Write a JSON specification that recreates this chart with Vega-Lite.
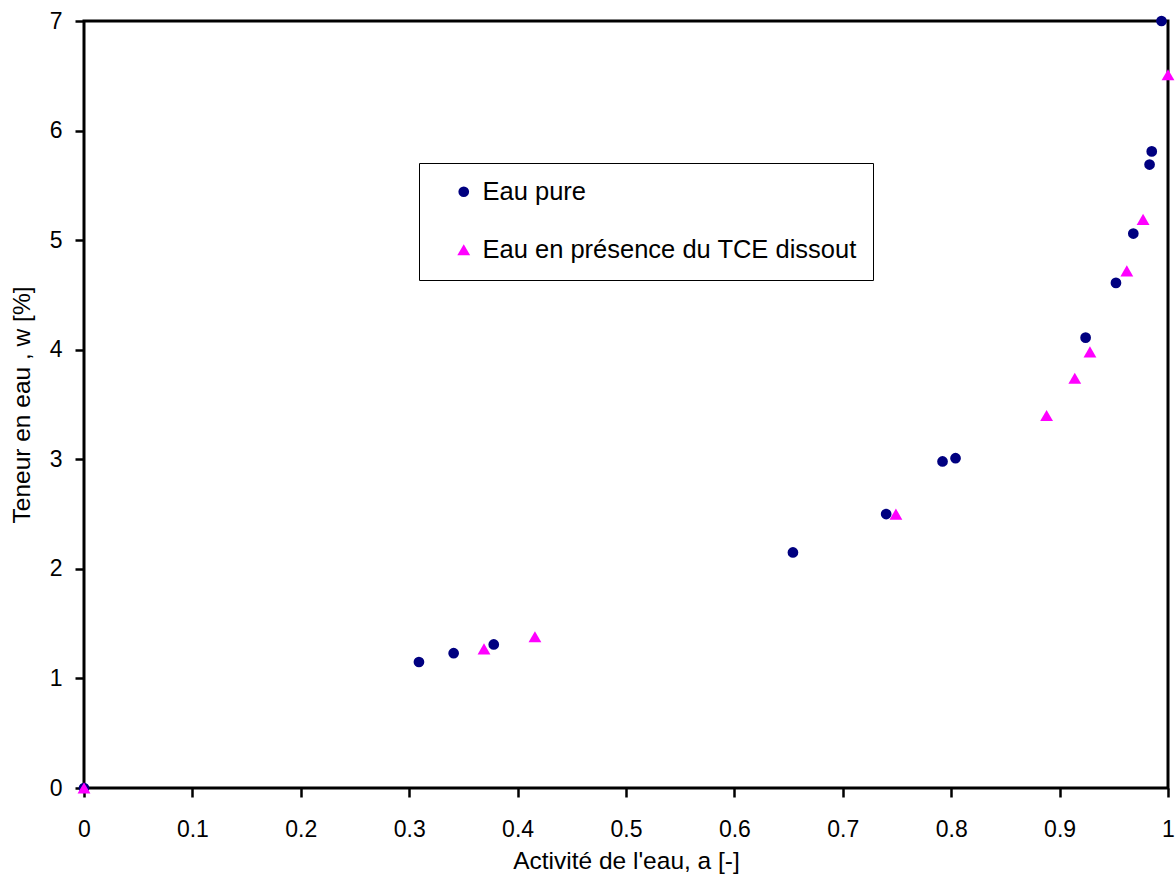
{
  "$schema": "https://vega.github.io/schema/vega-lite/v6.json",
  "autosize": {"type": "none"},
  "width": 1084,
  "height": 767,
  "padding": {"left": 84, "top": 21, "right": 8, "bottom": 95},
  "background": "white",
  "config": {
    "font": "Liberation Sans",
    "view": {"stroke": "black", "strokeWidth": 3},
    "axis": {
      "domain": false,
      "grid": false,
      "ticks": true,
      "tickColor": "black",
      "tickWidth": 2.5,
      "tickSize": 9,
      "labelFlush": false,
      "labelOverlap": false,
      "labelFont": "Liberation Sans",
      "labelFontSize": 23,
      "labelColor": "black",
      "titleFont": "Liberation Sans",
      "titleFontSize": 24.5,
      "titleFontWeight": "normal",
      "titleColor": "black"
    }
  },
  "data": {
    "values": [
      {"a": 0, "w": 0, "serie": "Eau pure"},
      {"a": 0.309, "w": 1.15, "serie": "Eau pure"},
      {"a": 0.341, "w": 1.23, "serie": "Eau pure"},
      {"a": 0.378, "w": 1.31, "serie": "Eau pure"},
      {"a": 0.654, "w": 2.15, "serie": "Eau pure"},
      {"a": 0.740, "w": 2.50, "serie": "Eau pure"},
      {"a": 0.792, "w": 2.98, "serie": "Eau pure"},
      {"a": 0.804, "w": 3.01, "serie": "Eau pure"},
      {"a": 0.924, "w": 4.11, "serie": "Eau pure"},
      {"a": 0.952, "w": 4.61, "serie": "Eau pure"},
      {"a": 0.968, "w": 5.06, "serie": "Eau pure"},
      {"a": 0.983, "w": 5.69, "serie": "Eau pure"},
      {"a": 0.985, "w": 5.81, "serie": "Eau pure"},
      {"a": 0.994, "w": 7.0, "serie": "Eau pure"},
      {"a": 0, "w": 0, "serie": "Eau en présence du TCE dissout"},
      {"a": 0.369, "w": 1.27, "serie": "Eau en présence du TCE dissout"},
      {"a": 0.416, "w": 1.38, "serie": "Eau en présence du TCE dissout"},
      {"a": 0.749, "w": 2.50, "serie": "Eau en présence du TCE dissout"},
      {"a": 0.888, "w": 3.40, "serie": "Eau en présence du TCE dissout"},
      {"a": 0.914, "w": 3.74, "serie": "Eau en présence du TCE dissout"},
      {"a": 0.928, "w": 3.98, "serie": "Eau en présence du TCE dissout"},
      {"a": 0.962, "w": 4.72, "serie": "Eau en présence du TCE dissout"},
      {"a": 0.977, "w": 5.19, "serie": "Eau en présence du TCE dissout"},
      {"a": 1.0, "w": 6.51, "serie": "Eau en présence du TCE dissout"}
    ]
  },
  "mark": {"type": "point", "filled": true, "opacity": 1},
  "encoding": {
    "x": {
      "field": "a", "type": "quantitative",
      "scale": {"domain": [0, 1], "nice": false, "zero": false},
      "axis": {"values": [0,0.1,0.2,0.3,0.4,0.5,0.6,0.7,0.8,0.9,1], "format": ".1~f", "title": "Activité de l'eau, a [-]", "labelPadding": 21, "titlePadding": 8}
    },
    "y": {
      "field": "w", "type": "quantitative",
      "scale": {"domain": [0, 7], "nice": false, "zero": false},
      "axis": {"values": [0,1,2,3,4,5,6,7], "format": "d", "title": "Teneur en eau , w [%]", "labelPadding": 13, "titlePadding": 15}
    },
    "color": {
      "field": "serie", "type": "nominal",
      "scale": {"domain": ["Eau pure", "Eau en présence du TCE dissout"], "range": ["#000080", "#FF00FF"]},
      "legend": {
        "title": null,
        "orient": "none",
        "legendX": 335,
        "legendY": 142,
        "direction": "vertical",
        "strokeColor": "black",
        "fillColor": "white",
        "padding": 16,
        "symbolOffset": 16,
        "labelOffset": 6,
        "rowPadding": 31,
        "labelFontSize": 25.5,
        "labelColor": "black",
        "labelLimit": 600,
        "symbolSize": 60,
        "symbolOpacity": 1
      }
    },
    "shape": {
      "field": "serie", "type": "nominal",
      "scale": {"domain": ["Eau pure", "Eau en présence du TCE dissout"], "range": ["circle", "triangle-up"]}
    },
    "size": {
      "field": "serie", "type": "nominal",
      "scale": {"domain": ["Eau pure", "Eau en présence du TCE dissout"], "range": [115, 165]},
      "legend": null
    },
    "order": {"field": "serie", "sort": "descending"}
  }
}
